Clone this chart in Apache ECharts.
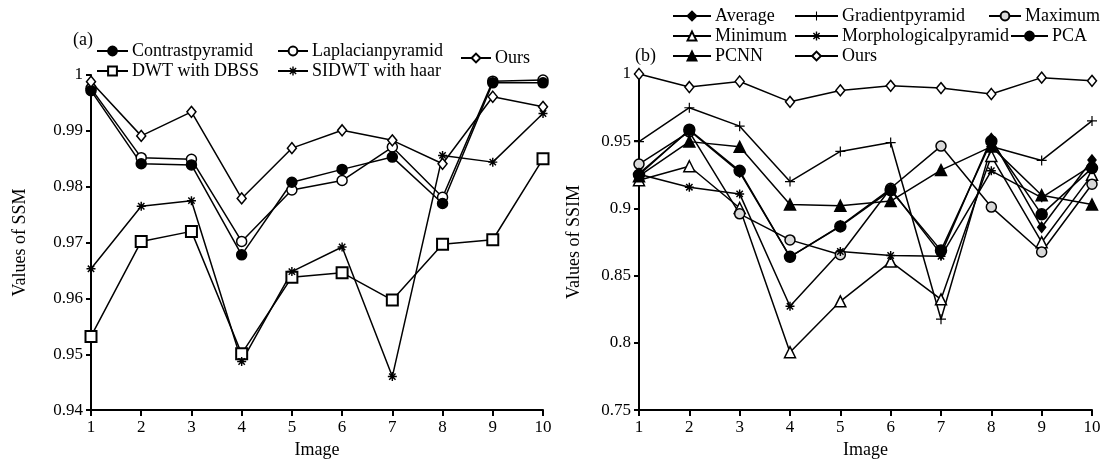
<!DOCTYPE html>
<html>
<head>
<meta charset="utf-8">
<script src="https://cdn.jsdelivr.net/npm/echarts@6/dist/echarts.min.js"></script>
<style>
html,body{margin:0;padding:0;background:#fff;}
#chart{width:1109px;height:464px;}
</style>
</head>
<body>
<div id="chart"></div>
<script>
// ---------- DATA ----------
const images = [1, 2, 3, 4, 5, 6, 7, 8, 9, 10];

// Panel (a): Values of SSM
const contrastPyramid  = [0.9972, 0.9841, 0.9839, 0.9678, 0.9808, 0.9831, 0.9853, 0.9770, 0.9986, 0.9986];
const laplacianPyramid = [0.9976, 0.9852, 0.9849, 0.9702, 0.9794, 0.9811, 0.9871, 0.9781, 0.9989, 0.9991];
const dwtDBSS          = [0.9532, 0.9702, 0.9720, 0.9501, 0.9638, 0.9646, 0.9597, 0.9697, 0.9705, 0.9850];
const sidwtHaar        = [0.9653, 0.9765, 0.9775, 0.9487, 0.9648, 0.9692, 0.9460, 0.9856, 0.9844, 0.9931];
const oursA            = [0.9988, 0.9891, 0.9934, 0.9779, 0.9869, 0.9901, 0.9883, 0.9841, 0.9961, 0.9943];
const ticksA = [0.94, 0.95, 0.96, 0.97, 0.98, 0.99, 1];

// Panel (b): Values of SSIM
const average        = [0.926, 0.958, 0.927, 0.864, 0.887, 0.9145, 0.866, 0.952, 0.886, 0.936];
const gradientPyr    = [0.9497, 0.9749, 0.9612, 0.920, 0.9424, 0.9490, 0.8176, 0.946, 0.9357, 0.9651];
const maximum        = [0.933, 0.957, 0.896, 0.8766, 0.8656, 0.915, 0.9464, 0.901, 0.8676, 0.918];
const minimum        = [0.921, 0.9314, 0.9003, 0.7931, 0.8309, 0.8605, 0.8324, 0.939, 0.8749, 0.925];
const morphPyr       = [0.9255, 0.9158, 0.9108, 0.8272, 0.868, 0.865, 0.8644, 0.928, 0.908, 0.932];
const pca            = [0.925, 0.9585, 0.928, 0.864, 0.8866, 0.9135, 0.8688, 0.950, 0.8956, 0.930];
const pcnn           = [0.924, 0.9497, 0.9458, 0.9029, 0.9020, 0.9055, 0.9285, 0.946, 0.9098, 0.9029];
const oursB          = [1.000, 0.9903, 0.9944, 0.9793, 0.9878, 0.9912, 0.9895, 0.9851, 0.9973, 0.9949];
const ticksB = [0.75, 0.8, 0.85, 0.9, 0.95, 1];

// ---------- STYLE HELPERS ----------
const FONT = 'Liberation Serif';
function barsPath(angles, halfLen, halfW) {
  let d = '';
  angles.forEach(a => {
    const r = a * Math.PI / 180;
    const cx = Math.cos(r), sy = Math.sin(r);
    const px = -sy, py = cx;
    const pts = [
      [ cx * halfLen + px * halfW,  sy * halfLen + py * halfW],
      [ cx * halfLen - px * halfW,  sy * halfLen - py * halfW],
      [-cx * halfLen - px * halfW, -sy * halfLen - py * halfW],
      [-cx * halfLen + px * halfW, -sy * halfLen + py * halfW]
    ].map(p => [(p[0] + 1.2).toFixed(3), (p[1] + 1.2).toFixed(3)]);
    d += 'M' + pts[0].join(' ') + ' L' + pts[1].join(' ') + ' L' + pts[2].join(' ') + ' L' + pts[3].join(' ') + ' Z ';
  });
  return 'path://' + d;
}
const ASTERISK = barsPath([0, 45, 90, 135], 1, 0.16);
const PLUS = barsPath([0, 90], 1, 0.12);

function pairs(vals) { return images.map((x, i) => [x, vals[i]]); }

function mkSeries(name, vals, gi, symbol, size, fill, extra) {
  return Object.assign({
    name: name,
    type: 'line',
    xAxisIndex: gi, yAxisIndex: gi,
    data: pairs(vals),
    symbol: symbol,
    symbolSize: size,
    showAllSymbol: true,
    clip: false,
    lineStyle: { color: '#000', width: 1.5 },
    itemStyle: { color: fill, borderColor: '#000', borderWidth: 1.5, opacity: 1 },
    emphasis: { disabled: true },
    animation: false
  }, extra || {});
}

function xAxisCfg(gi) {
  return {
    gridIndex: gi, type: 'value', min: 1, max: 10, interval: 1,
    name: 'Image', nameLocation: 'middle', nameGap: 27,
    nameTextStyle: { fontFamily: FONT, fontSize: 18, color: '#000' },
    axisLine: { lineStyle: { color: '#000', width: 2 } },
    axisTick: { length: 6, lineStyle: { color: '#000', width: 2 } },
    axisLabel: { margin: 9, fontFamily: FONT, fontSize: 17, color: '#000' },
    splitLine: { show: false }
  };
}
function yAxisCfg(gi, ticks, name, gap) {
  return {
    gridIndex: gi, type: 'value', min: ticks[0], max: ticks[ticks.length - 1],
    interval: +(ticks[1] - ticks[0]).toFixed(4),
    name: name, nameLocation: 'middle', nameGap: gap,
    nameTextStyle: { fontFamily: FONT, fontSize: 18, color: '#000' },
    axisLine: { show: true, lineStyle: { color: '#000', width: 2 } },
    axisTick: { length: 5, lineStyle: { color: '#000', width: 2 } },
    axisLabel: { margin: 8, fontFamily: FONT, fontSize: 17, color: '#000',
      formatter: v => String(+v.toFixed(4)) },
    splitLine: { show: false }
  };
}

function leg(name, left, cy, iw) {
  return {
    data: [name], left: left, top: cy - 10, padding: 0,
    itemWidth: iw, itemHeight: 11, itemGap: 0,
    selectedMode: false,
    textStyle: { fontFamily: FONT, fontSize: 18, color: '#000', padding: [0, 0, 0, -1] }
  };
}

const series = [
  // panel (a)
  mkSeries('DWT with DBSS', dwtDBSS, 0, 'rect', 11, '#fff', { itemStyle: { color: '#fff', borderColor: '#000', borderWidth: 2 } }),
  mkSeries('SIDWT with haar', sidwtHaar, 0, ASTERISK, 9, '#000', { itemStyle: { color: '#000', borderWidth: 0 } }),
  mkSeries('Laplacianpyramid', laplacianPyramid, 0, 'circle', 10, '#fff'),
  mkSeries('Contrastpyramid', contrastPyramid, 0, 'circle', 10, '#000'),
  mkSeries('Ours', oursA, 0, 'diamond', [9, 11], '#fff'),
  // panel (b)
  mkSeries('Minimum', minimum, 1, 'triangle', 11, '#fff'),
  mkSeries('Maximum', maximum, 1, 'circle', 10, '#d8d8d8'),
  mkSeries('Morphologicalpyramid', morphPyr, 1, ASTERISK, 9, '#000', { itemStyle: { color: '#000', borderWidth: 0 } }),
  mkSeries('Gradientpyramid', gradientPyr, 1, PLUS, 10, '#000', { itemStyle: { color: '#000', borderWidth: 0 } }),
  mkSeries('PCNN', pcnn, 1, 'triangle', 11, '#000'),
  mkSeries('PCA', pca, 1, 'circle', 11, '#000'),
  mkSeries('Average', average, 1, 'diamond', [8, 10], '#000'),
  mkSeries('Ours', oursB, 1, 'diamond', [9, 11], '#fff')
];

const option = {
  backgroundColor: '#fff',
  animation: false,
  textStyle: { fontFamily: FONT },
  grid: [
    { left: 91, right: 566, top: 75, bottom: 49 },
    { left: 639, right: 17, top: 74, bottom: 48 }
  ],
  xAxis: [xAxisCfg(0), xAxisCfg(1)],
  yAxis: [yAxisCfg(0, ticksA, 'Values of SSM', 62), yAxisCfg(1, ticksB, 'Values of SSIM', 56)],
  legend: [
    leg('Contrastpyramid', 96, 52, 31),
    leg('Laplacianpyramid', 277, 52, 30),
    leg('Ours', 460, 59, 30),
    leg('DWT with DBSS', 96, 72, 31),
    leg('SIDWT with haar', 277, 72, 30),
    leg('Average', 672, 17, 38),
    leg('Gradientpyramid', 794, 17, 43),
    leg('Maximum', 988, 17, 32),
    leg('Minimum', 672, 37, 38),
    leg('Morphologicalpyramid', 794, 37, 43),
    leg('PCA', 1010, 37, 37),
    leg('PCNN', 672, 57, 38),
    leg('Ours', 794, 57, 43)
  ],
  graphic: [
    { type: 'text', left: 73, top: 31, style: { text: '(a)', font: '18px "Liberation Serif"', fill: '#000' } },
    { type: 'text', left: 635, top: 47, style: { text: '(b)', font: '18px "Liberation Serif"', fill: '#000' } }
  ],
  series: series
};

const chart = echarts.init(document.getElementById('chart'), null, { renderer: 'canvas' });
chart.setOption(option);
</script>
</body>
</html>
